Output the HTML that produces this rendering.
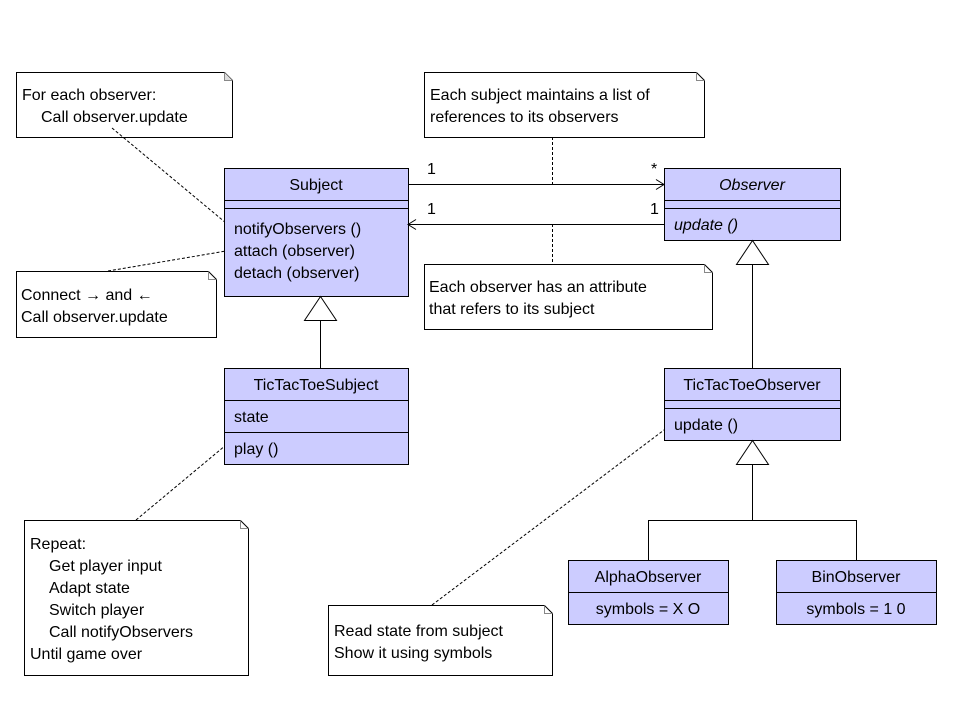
<!DOCTYPE html>
<html><head><style>
body{margin:0;background:#fff;}
svg text{font-family:"Liberation Sans",sans-serif;font-size:16px;fill:#000;}
</style></head><body>
<svg width="960" height="720" xmlns="http://www.w3.org/2000/svg">
<g fill="none" stroke="#000" stroke-width="1">
<!-- notes -->
<path d="M16.5,72.5 H224.5 L232.5,80.5 V137.5 H16.5 Z" fill="#fff"/><path d="M224.5,72.5 V80.5 H232.5" fill="#ddd" stroke="#888"/>
<path d="M424.5,72.5 H696.5 L704.5,80.5 V137.5 H424.5 Z" fill="#fff"/><path d="M696.5,72.5 V80.5 H704.5" stroke="#888"/>
<path d="M424.5,264.5 H704.5 L712.5,272.5 V329.5 H424.5 Z" fill="#fff"/><path d="M704.5,264.5 V272.5 H712.5" stroke="#888"/>
<path d="M16.5,271.5 H208.5 L216.5,279.5 V337.5 H16.5 Z" fill="#fff"/><path d="M208.5,271.5 V279.5 H216.5" stroke="#888"/>
<path d="M24.5,520.5 H240.5 L248.5,528.5 V675.5 H24.5 Z" fill="#fff"/><path d="M240.5,520.5 V528.5 H248.5" stroke="#888"/>
<path d="M328.5,605.5 H544.5 L552.5,613.5 V675.5 H328.5 Z" fill="#fff"/><path d="M544.5,605.5 V613.5 H552.5" stroke="#888"/>
<!-- dashed -->
<g stroke-dasharray="3,2">
<line x1="112" y1="128" x2="232" y2="228"/>
<line x1="108" y1="271" x2="232" y2="250"/>
<line x1="552.5" y1="137" x2="552.5" y2="184"/>
<line x1="552.5" y1="224" x2="552.5" y2="264"/>
<line x1="136" y1="520" x2="232" y2="440"/>
<line x1="432" y1="605" x2="672" y2="424"/>
</g>
<!-- classes -->
<rect x="224.5" y="168.5" width="184" height="128" fill="#ccccff"/>
<line x1="224" y1="200.5" x2="408" y2="200.5"/><line x1="224" y1="208.5" x2="408" y2="208.5"/>
<rect x="664.5" y="168.5" width="176" height="72" fill="#ccccff"/>
<line x1="664" y1="200.5" x2="840" y2="200.5"/><line x1="664" y1="208.5" x2="840" y2="208.5"/>
<rect x="224.5" y="368.5" width="184" height="96" fill="#ccccff"/>
<line x1="224" y1="400.5" x2="408" y2="400.5"/><line x1="224" y1="432.5" x2="408" y2="432.5"/>
<rect x="664.5" y="368.5" width="176" height="72" fill="#ccccff"/>
<line x1="664" y1="400.5" x2="840" y2="400.5"/><line x1="664" y1="408.5" x2="840" y2="408.5"/>
<rect x="568.5" y="560.5" width="160" height="64" fill="#ccccff"/>
<line x1="568" y1="592.5" x2="728" y2="592.5"/>
<rect x="776.5" y="560.5" width="160" height="64" fill="#ccccff"/>
<line x1="776" y1="592.5" x2="936" y2="592.5"/>
<!-- associations -->
<line x1="408" y1="184.5" x2="664" y2="184.5"/><path d="M656,179.5 L664,184.5 L656,189.5"/>
<line x1="408" y1="224.5" x2="664" y2="224.5"/><path d="M416,219.5 L408,224.5 L416,229.5"/>
<!-- generalization -->
<path d="M320.5,296.5 L304.5,320.5 H336.5 Z" fill="#fff"/><line x1="320.5" y1="320" x2="320.5" y2="368"/>
<path d="M752.5,240.5 L736.5,264.5 H768.5 Z" fill="#fff"/><line x1="752.5" y1="264" x2="752.5" y2="368"/>
<path d="M752.5,440.5 L736.5,464.5 H768.5 Z" fill="#fff"/><line x1="752.5" y1="464" x2="752.5" y2="520"/>
<line x1="648" y1="520.5" x2="857" y2="520.5"/>
<line x1="648.5" y1="520" x2="648.5" y2="560"/><line x1="856.5" y1="520" x2="856.5" y2="560"/>
</g>
<text x="22" y="100">For each observer:</text>
<text x="41" y="122">Call observer.update</text>
<text x="430" y="100">Each subject maintains a list of</text>
<text x="430" y="122">references to its observers</text>
<text x="429" y="292">Each observer has an attribute</text>
<text x="429" y="314">that refers to its subject</text>
<text x="21" y="300">Connect → and ←</text>
<text x="21" y="322">Call observer.update</text>
<text x="30" y="549">Repeat:</text>
<text x="49" y="571">Get player input</text>
<text x="49" y="593">Adapt state</text>
<text x="49" y="615">Switch player</text>
<text x="49" y="637">Call notifyObservers</text>
<text x="30" y="659">Until game over</text>
<text x="334" y="636">Read state from subject</text>
<text x="334" y="658">Show it using symbols</text>
<text x="316" y="190" text-anchor="middle">Subject</text>
<text x="234" y="234">notifyObservers ()</text>
<text x="234" y="256">attach (observer)</text>
<text x="234" y="278">detach (observer)</text>
<text x="752" y="190" text-anchor="middle" font-style="italic">Observer</text>
<text x="674" y="230" font-style="italic">update ()</text>
<text x="316" y="390" text-anchor="middle">TicTacToeSubject</text>
<text x="234" y="422">state</text>
<text x="234" y="454">play ()</text>
<text x="752" y="390" text-anchor="middle">TicTacToeObserver</text>
<text x="674" y="430">update ()</text>
<text x="648" y="582" text-anchor="middle">AlphaObserver</text>
<text x="648" y="614" text-anchor="middle">symbols = X O</text>
<text x="856" y="582" text-anchor="middle">BinObserver</text>
<text x="856" y="614" text-anchor="middle">symbols = 1 0</text>
<text x="427" y="174">1</text>
<text x="651" y="174">*</text>
<text x="427" y="214">1</text>
<text x="650" y="214">1</text>
</svg>
</body></html>
